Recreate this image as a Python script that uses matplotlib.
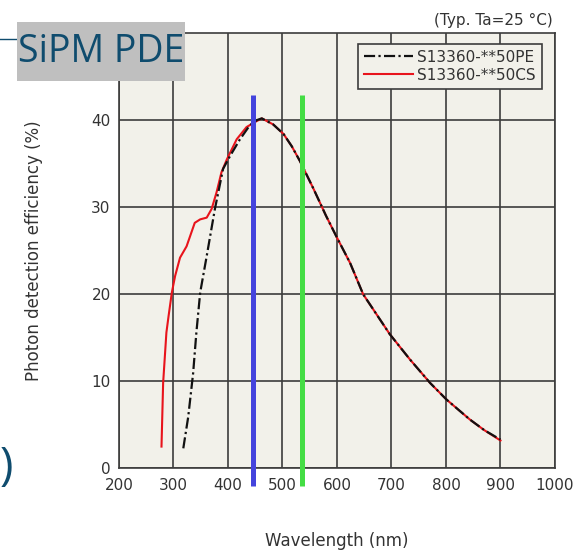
#!/usr/bin/env python3
# -*- coding: utf-8 -*-

import matplotlib
matplotlib.use("Agg")
import matplotlib.pyplot as plt
from matplotlib.patches import Rectangle


# S13360-**50CS (red, solid)
wl_cs = [278, 281, 287, 291, 297, 303, 312, 324, 339, 349, 361, 370, 379,
         388, 398, 416, 434, 453, 462, 483, 502, 517, 532, 557, 580, 600,
         624, 648, 697, 734, 771, 801, 844, 870, 900]
pde_cs = [2.5, 9.8, 15.6, 17.5, 20.2, 22.1, 24.2, 25.5, 28.2, 28.6, 28.8,
          29.8, 31.7, 34.0, 35.5, 37.8, 39.2, 39.9, 40.2, 39.5, 38.4, 37.0,
          35.3, 32.1, 29.0, 26.5, 23.6, 20.0, 15.4, 12.5, 9.8, 7.9, 5.6,
          4.4, 3.2]

# S13360-**50PE (black, dash-dot)
wl_pe = [318, 327, 336, 342, 349, 361, 376, 391, 404, 422, 440, 453, 462,
         483, 502, 517, 532, 557, 580, 600, 624, 648, 697, 734, 771, 801,
         844, 870, 900]
pde_pe = [2.3, 5.9, 10.9, 15.6, 20.2, 24.4, 29.8, 34.4, 35.9, 37.8, 39.4,
          40.0, 40.2, 39.5, 38.4, 37.0, 35.3, 32.1, 29.0, 26.5, 23.6, 20.0,
          15.4, 12.5, 9.8, 7.9, 5.6, 4.4, 3.3]

# marker wavelengths drawn on top of the plot
marker_wl = [446, 535]
marker_colors = ["#4444dd", "#44dd44"]

x_ticks = [200, 300, 400, 500, 600, 700, 800, 900, 1000]
y_ticks = [0, 10, 20, 30, 40]

GRID = "#3c3c3c"
TXT = "#333333"
TEAL = "#0f4c6e"


def create_graph():
    fig = plt.figure(figsize=(5.81, 5.51), dpi=100)
    ax = fig.add_axes([0.2048, 0.150, 0.7504, 0.790])
    ax.set_facecolor("#f2f1ea")

    ax.plot(wl_cs, pde_cs, color="#e8141c", lw=1.5, zorder=3,
            label="S13360-**50CS")
    ax.plot(wl_pe, pde_pe, color="#111111", lw=1.6, zorder=4,
            linestyle=(0, (5, 1.5, 1, 1.5)), label="S13360-**50PE")

    for wl, c in zip(marker_wl, marker_colors):
        ax.plot([wl, wl], [-2.0, 42.9], color=c, lw=3.6, zorder=5,
                clip_on=False, solid_capstyle="butt")

    ax.set_xlim(200, 1000)
    ax.set_ylim(0, 50)
    ax.set_xticks(x_ticks)
    ax.set_yticks(y_ticks)
    ax.grid(True, color=GRID, lw=1.2)
    ax.set_axisbelow(True)
    for s in ax.spines.values():
        s.set_color(GRID)
        s.set_linewidth(1.2)
    ax.tick_params(axis="x", length=0, pad=7, labelsize=11, labelcolor=TXT)
    ax.tick_params(axis="y", length=0, pad=6, labelsize=11, labelcolor=TXT)

    ax.set_xlabel("Wavelength (nm)", fontsize=12, color=TXT, labelpad=28)
    ax.set_ylabel("Photon detection efficiency (%)", fontsize=12,
                  color=TXT, labelpad=35)

    handles, labels = ax.get_legend_handles_labels()
    leg = ax.legend(handles[::-1], labels[::-1], loc="upper right",
                    bbox_to_anchor=(0.970, 0.976), fontsize=11,
                    fancybox=False, framealpha=1, edgecolor=GRID,
                    facecolor="#f2f1ea", handlelength=3.2,
                    handletextpad=0.3, borderpad=0.4, labelspacing=0.2,
                    borderaxespad=0)
    leg.get_frame().set_linewidth(1.2)
    for t in leg.get_texts():
        t.set_color(TXT)

    fig.text(0.952, 0.963, "(Typ. Ta=25 °C)", ha="right", va="center",
             fontsize=11, color=TXT)

    # slide decorations: title box, rule on the left, bracket
    fig.patches.append(Rectangle((17 / 581, 1 - 81 / 551), 168 / 581,
                                 59 / 551, transform=fig.transFigure,
                                 facecolor="#bfbfbf", edgecolor="none",
                                 zorder=6))
    fig.lines.append(plt.Line2D([0, 17 / 581], [1 - 39 / 551, 1 - 39 / 551],
                                transform=fig.transFigure, color=TEAL,
                                lw=1.0))
    fig.text(101 / 581, 1 - 52 / 551, "SiPM PDE", ha="center", va="center",
             fontsize=27, color=TEAL, family="Open Sans", zorder=7)
    fig.text(0.0, 1 - 468 / 551, ")", ha="left", va="center",
             fontsize=33, color=TEAL, family="Open Sans")

    fig.savefig("out.png", dpi=100)


def main():
    create_graph()


if __name__ == '__main__':
    main()
